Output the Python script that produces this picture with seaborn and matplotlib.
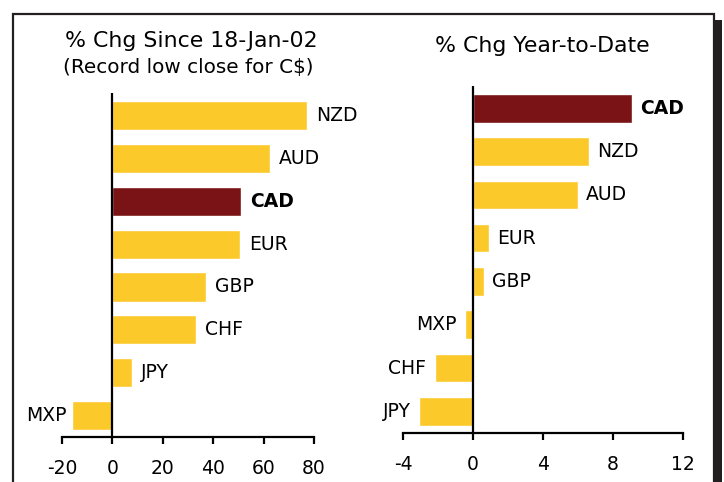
import numpy as np
import pandas as pd
import matplotlib
matplotlib.use("Agg")
import matplotlib.pyplot as plt
import seaborn as sns
from matplotlib.patches import Rectangle

# % change since 18-Jan-02 (record low close for C$)
since_cats = ["NZD", "AUD", "CAD", "EUR", "GBP", "CHF", "JPY", "MXP"]
since_vals = [77.4, 62.7, 51.2, 50.8, 37.3, 33.3, 7.9, -15.9]

# % change year-to-date
ytd_cats = ["CAD", "NZD", "AUD", "EUR", "GBP", "MXP", "CHF", "JPY"]
ytd_vals = [9.1, 6.6, 6.0, 0.9, 0.6, -0.45, -2.2, -3.1]

yellow = "#FCC92B"
darkred = "#7A1315"

sns.set_style("white")
plt.rcParams["font.family"] = ["DejaVu Sans"]
plt.rcParams["text.color"] = "black"

fig = plt.figure(figsize=(7.24, 4.82), dpi=100)
W, H = 724, 482

def px_axes(x0, x1, ytop, ybot):
    return fig.add_axes([x0 / W, (H - ybot) / H, (x1 - x0) / W, (ybot - ytop) / H])

ax1 = px_axes(62, 314, 93, 437)
ax2 = px_axes(403, 683, 86, 433)


def draw_panel(ax, cats, vals, xlim, ticks, top_pad, width, neg_off):
    df = pd.DataFrame({"cur": cats, "val": vals})
    pal = {c: (darkred if c == "CAD" else yellow) for c in cats}
    sns.barplot(data=df, x="val", y="cur", hue="cur", palette=pal, order=cats,
                orient="h", width=width, saturation=1, legend=False, ax=ax)
    ax.set_xlim(*xlim)
    ax.set_ylim(len(cats) - 0.5, -top_pad)
    ax.axvline(0, color="black", lw=1.6, zorder=5)
    for s in ["left", "right", "top"]:
        ax.spines[s].set_visible(False)
    ax.spines["bottom"].set_linewidth(1.6)
    ax.spines["bottom"].set_color("black")
    ax.set_xticks(ticks)
    ax.set_xticklabels([str(t) for t in ticks])
    ax.set_yticks([])
    ax.set_xlabel("")
    ax.set_ylabel("")
    ax.tick_params(axis="x", direction="out", length=5, width=1.6, color="black",
                   pad=11, labelsize=13.5, labelcolor="black", bottom=True)
    for i, (c, v) in enumerate(zip(cats, vals)):
        bold = "bold" if c == "CAD" else "normal"
        if v >= 0:
            ax.annotate(c, (v, i), xytext=(6, 0), textcoords="offset points",
                        ha="left", va="center", fontsize=13.5, fontweight=bold, color="black")
        else:
            ax.annotate(c, (v, i), xytext=(-neg_off, 0), textcoords="offset points",
                        ha="right", va="center", fontsize=13.5, fontweight=bold, color="black")


draw_panel(ax1, since_cats, since_vals, (-20, 80), [-20, 0, 20, 40, 60, 80], 0.525, 0.68, 4)
draw_panel(ax2, ytd_cats, ytd_vals, (-4, 12), [-4, 0, 4, 8, 12], 0.515, 0.66, 6)

fig.text(191 / W, 1 - 41 / H, "% Chg Since 18-Jan-02", ha="center", va="center", fontsize=15.8)
fig.text(188 / W, 1 - 67 / H, "(Record low close for C$)", ha="center", va="center", fontsize=14.4)
fig.text(542 / W, 1 - 46 / H, "% Chg Year-to-Date", ha="center", va="center", fontsize=15.8)

# frame with shadow on the right
fig.patches.append(Rectangle((714 / W, 0), 8 / W, (H - 20) / H, transform=fig.transFigure,
                             facecolor="#231f20", edgecolor="none", zorder=0))
fig.patches.append(Rectangle((13 / W, -0.05), (714 - 13) / W, (H - 14) / H + 0.05,
                             transform=fig.transFigure, facecolor="none",
                             edgecolor="#231f20", lw=1.6, zorder=1))

fig.savefig("out.png", dpi=100)
